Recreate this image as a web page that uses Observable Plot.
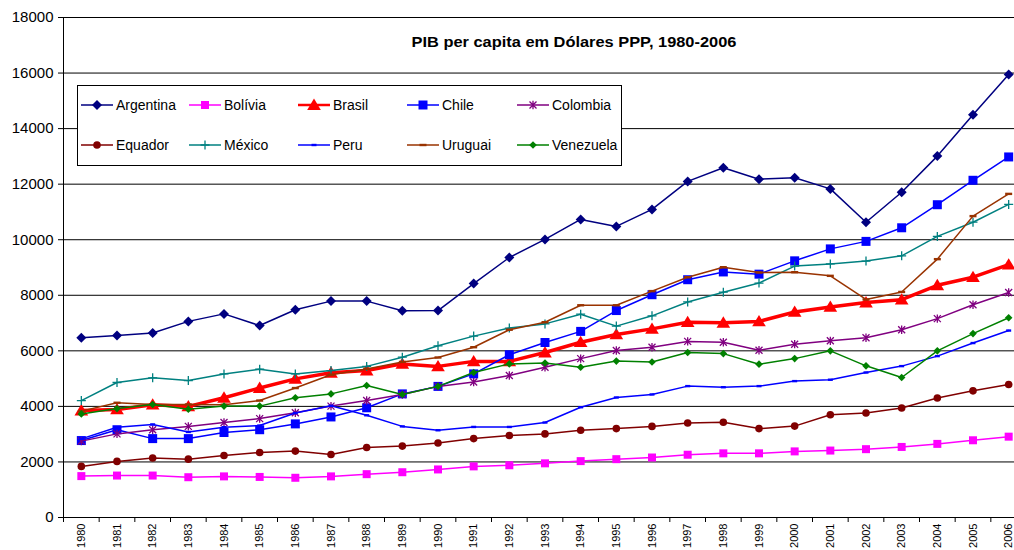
<!DOCTYPE html>
<html><head><meta charset="utf-8">
<script src="https://cdn.jsdelivr.net/npm/d3@7"></script>
<script src="https://cdn.jsdelivr.net/npm/@observablehq/plot@0.6"></script>
<style>
body{margin:0;background:#fff;overflow:hidden;font-family:"Liberation Sans",Arial,sans-serif}
#wrap{position:relative;width:1014px;height:550px;overflow:hidden;background:#fff}
#title{position:absolute;left:0;top:34px;width:1148px;text-align:center;font-weight:bold;font-size:14px;color:#000;transform:scaleX(1.17);transform-origin:574px 0}
#legend{position:absolute;left:0;top:0}
</style></head><body>
<div id="wrap"><div id="chart"></div><div id="title">PIB per capita em Dólares PPP, 1980-2006</div></div>
<script>
const years = [1980,1981,1982,1983,1984,1985,1986,1987,1988,1989,1990,1991,1992,1993,1994,1995,1996,1997,1998,1999,2000,2001,2002,2003,2004,2005,2006];
const yTicks = [0,2000,4000,6000,8000,10000,12000,14000,16000,18000];
const countries = ["Argentina","Bolívia","Brasil","Chile","Colombia","Equador","México","Peru","Uruguai","Venezuela"];
const argentina = [6470,6550,6640,7060,7330,6910,7480,7790,7790,7440,7450,8420,9360,10010,10730,10480,11090,12100,12590,12180,12230,11830,10630,11710,13010,14500,15950];
const bolivia   = [1490,1510,1510,1450,1480,1460,1430,1480,1560,1630,1730,1840,1880,1950,2030,2100,2160,2260,2310,2310,2380,2410,2460,2540,2650,2780,2910];
const brasil    = [3850,3890,4060,4000,4310,4660,4990,5210,5290,5530,5440,5620,5620,5940,6310,6590,6790,7030,7010,7060,7400,7580,7740,7840,8360,8650,9100];
const chile     = [2770,3160,2840,2840,3060,3160,3370,3620,3950,4450,4720,5170,5860,6300,6700,7450,8020,8560,8840,8760,9240,9670,9940,10430,11260,12140,12980];
const colombia  = [2750,3010,3160,3280,3420,3560,3770,4010,4210,4430,4720,4880,5110,5410,5720,6010,6130,6340,6310,6020,6240,6360,6470,6760,7160,7660,8100];
const equador   = [1840,2020,2140,2100,2230,2340,2390,2270,2520,2570,2680,2840,2950,3010,3140,3200,3280,3400,3430,3200,3290,3700,3760,3940,4300,4560,4790];
const mexico    = [4210,4860,5030,4930,5170,5340,5170,5290,5440,5770,6180,6530,6820,6970,7320,6890,7260,7760,8110,8440,9050,9130,9230,9420,10120,10630,11270];
const peru      = [2830,3250,3350,3080,3250,3310,3760,4020,3680,3280,3140,3260,3260,3420,3970,4320,4430,4730,4690,4730,4910,4960,5220,5450,5810,6280,6730];
const uruguai   = [3830,4130,4070,4070,4060,4210,4660,5140,5350,5600,5760,6130,6760,7030,7640,7640,8150,8650,9010,8820,8830,8700,7850,8120,9300,10850,11650];
const venezuela = [3730,3920,4070,3900,4010,4010,4310,4450,4750,4430,4720,5220,5530,5560,5410,5630,5600,5940,5900,5520,5720,6000,5460,5040,6000,6620,7190];
const seriesValues = [argentina,bolivia,brasil,chile,colombia,equador,mexico,peru,uruguai,venezuela];

// symbol factories (styles)
const S = {
  diamond: s => ({draw(c){c.moveTo(0,-s);c.lineTo(s,0);c.lineTo(0,s);c.lineTo(-s,0);c.closePath();}}),
  square: s => ({draw(c){c.rect(-s,-s,2*s,2*s);}}),
  triangle: s => ({draw(c){c.moveTo(0,-s);c.lineTo(s*1.05,s*0.75);c.lineTo(-s*1.05,s*0.75);c.closePath();}}),
  circle: s => ({draw(c){c.moveTo(s,0);c.arc(0,0,s,0,2*Math.PI);c.closePath();}}),
  asterisk: s => ({draw(c){c.moveTo(-s,-s);c.lineTo(s,s);c.moveTo(s,-s);c.lineTo(-s,s);c.moveTo(0,-s*1.2);c.lineTo(0,s*1.2);}}),
  plus: s => ({draw(c){c.moveTo(-s,0);c.lineTo(s,0);c.moveTo(0,-s);c.lineTo(0,s);}}),
  dash: (w,h) => ({draw(c){c.rect(-w,-h,2*w,2*h);}})
};
const styles = [
  {color:"#000080", sym:S.diamond(5),   filled:true,  sw:1.5},
  {color:"#FF00FF", sym:S.square(4),    filled:true,  sw:1.5},
  {color:"#FF0000", sym:S.triangle(6.5),filled:true,  sw:3.5},
  {color:"#0000FF", sym:S.square(4.5),  filled:true,  sw:1.5},
  {color:"#800080", sym:S.asterisk(3.5),filled:false, sw:1.5},
  {color:"#800000", sym:S.circle(3.8),  filled:true,  sw:1.5},
  {color:"#008080", sym:S.plus(4.5),    filled:false, sw:1.5},
  {color:"#0000FF", sym:S.dash(2.5,1.2),filled:true,  sw:1.5},
  {color:"#993300", sym:S.dash(3.5,1.2),filled:true,  sw:1.5},
  {color:"#008000", sym:S.diamond(3.8), filled:true,  sw:1.5}
];

const boundaries = [1979.5, ...years.map(y => y + 0.5)];
const marks = [
  Plot.ruleY(yTicks, {x1:1979.5, x2:2006.5, stroke:"#000", strokeWidth:1}),
  Plot.ruleX([1979.5], {y1:0, y2:18000, stroke:"#000", strokeWidth:1}),
  Plot.axisY({ticks:yTicks, tickSize:5, tickPadding:5, label:null, fontSize:15, tickFormat:d=>String(d), stroke:"#000"}),
  Plot.axisX({ticks:boundaries, tickSize:5, tickFormat:()=>"", label:null, stroke:"#000"}),
  Plot.axisX({ticks:years, tickSize:0, tickPadding:6, tickRotate:-90, fontSize:11, label:null, tickFormat:d=>String(d)})
];
countries.forEach((name,i) => {
  const st = styles[i];
  const rows = years.map((yr,j) => ({country:name, year:yr, value:seriesValues[i][j]}));
  marks.push(Plot.line(rows, {x:"year", y:"value", stroke:st.color, strokeWidth:st.sw}));
  marks.push(Plot.dot(rows, {x:"year", y:"value", symbol:st.sym, r:4,
    fill: st.filled ? st.color : "none", stroke: st.filled ? "none" : st.color, strokeWidth:1.3}));
});

const chart = Plot.plot({
  width:1014, height:550,
  marginLeft:63, marginRight:0, marginTop:17, marginBottom:33,
  x:{domain:[1979.5,2006.5], range:[63,1026]},
  y:{domain:[0,18000], range:[517,17]},
  style:{fontFamily:"'Liberation Sans', Arial, sans-serif", color:"#000", background:"#fff"},
  marks
});
document.getElementById("chart").appendChild(chart);

// legend
const lg = d3.select("#wrap").append("svg").attr("id","legend").attr("width",1014).attr("height",550);
lg.append("rect").attr("x",77.5).attr("y",85.5).attr("width",544).attr("height",80).attr("fill","#fff").attr("stroke","#000");
const colX = [97,205,314,423,533], rowY = [105,145];
countries.forEach((name,i) => {
  const st = styles[i];
  const cx = colX[i%5], cy = rowY[Math.floor(i/5)];
  const g = lg.append("g");
  g.append("line").attr("x1",cx-16).attr("x2",cx+16).attr("y1",cy).attr("y2",cy).attr("stroke",st.color).attr("stroke-width",Math.min(st.sw,2.5));
  g.append("path").attr("transform",`translate(${cx},${cy})`).attr("d",d3.symbol(st.sym)())
    .attr("fill", st.filled ? st.color : "none").attr("stroke", st.filled ? "none" : st.color).attr("stroke-width",1.3);
  g.append("text").attr("x",cx+19).attr("y",cy).attr("dy","0.36em").attr("font-size",14)
    .attr("font-family","'Liberation Sans', Arial, sans-serif").attr("fill","#000").text(name);
});
</script>
</body></html>
